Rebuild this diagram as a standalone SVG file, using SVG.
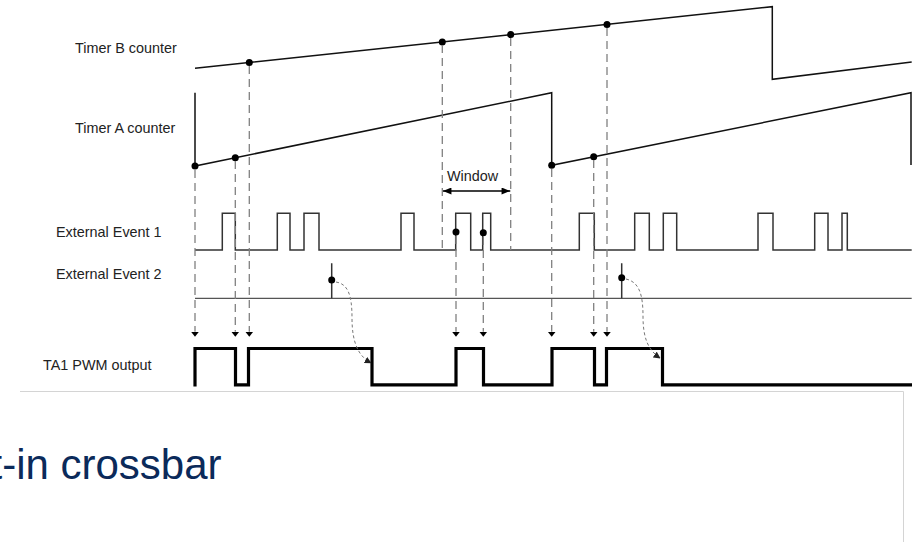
<svg xmlns="http://www.w3.org/2000/svg" width="923" height="542" viewBox="0 0 923 542">
<style>
  .lbl { font-family: "Liberation Sans", Arial, sans-serif; font-size: 14.4px; fill: #222; }
  .ctr { fill: none; stroke: #111; stroke-width: 1.5; }
  .ev { fill: none; stroke: #333; stroke-width: 1.5; }
  .ev2 { fill: none; stroke: #555; stroke-width: 1.2; }
  .pwm { fill: none; stroke: #000; stroke-width: 3.2; stroke-linejoin: miter; }
  .dash { fill: none; stroke: #808080; stroke-width: 1.3; stroke-dasharray: 8 5; }
  .curve { fill: none; stroke: #777; stroke-width: 1; stroke-dasharray: 3 2.5; }
  .dot { fill: #000; }
  .frame { fill: none; stroke: #d4d4d4; stroke-width: 1; }
</style>
<defs>
  <marker id="down" viewBox="0 0 8 5" refX="4" refY="0" markerWidth="8" markerHeight="5" markerUnits="userSpaceOnUse" orient="0">
    <path d="M0,0 L8,0 L4,5 Z" fill="#000"/>
  </marker>
  <marker id="ah" viewBox="0 0 10 8" refX="10" refY="4" markerWidth="9" markerHeight="7" markerUnits="userSpaceOnUse" orient="auto-start-reverse">
    <path d="M0,0 L10,4 L0,8 Z" fill="#000"/>
  </marker>
  <marker id="ahs" viewBox="0 0 10 10" refX="9" refY="5" markerWidth="7" markerHeight="7" markerUnits="userSpaceOnUse" orient="auto">
    <path d="M0,0 L10,5 L0,10 Z" fill="#222"/>
  </marker>
</defs>

<g id="timerB">
  <text class="lbl" x="75" y="53">Timer B counter</text>
  <path class="ctr" d="M195,68.3 L772.3,6.7 V79.3 L911.7,62"/>
  <circle class="dot" cx="249.3" cy="62.5" r="3.5"/>
  <circle class="dot" cx="442.3" cy="41.9" r="3.5"/>
  <circle class="dot" cx="510.7" cy="34.6" r="3.5"/>
  <circle class="dot" cx="607" cy="24.4" r="3.5"/>
</g>

<g id="timerA">
  <text class="lbl" x="75" y="133">Timer A counter</text>
  <path class="ctr" d="M195,92.7 V166 L551.7,92.7 V165.3 L911,92.7 V165"/>
  <circle class="dot" cx="195" cy="166" r="3.5"/>
  <circle class="dot" cx="235.3" cy="157.7" r="3.5"/>
  <circle class="dot" cx="551.7" cy="165.3" r="3.5"/>
  <circle class="dot" cx="593.7" cy="156.8" r="3.5"/>
</g>

<g id="window">
  <text class="lbl" x="447" y="181">Window</text>
  <line x1="442.7" y1="191" x2="510.3" y2="191" stroke="#000" stroke-width="1.5" marker-start="url(#ah)" marker-end="url(#ah)"/>
</g>

<g id="event1">
  <text class="lbl" x="56" y="237">External Event 1</text>
  <path class="ev" d="M195,250 H222.3 V213.3 H235.3 V250 H277.3 V213.3 H290 V250 H304 V213.3 H319 V250 H401 V213.3 H414 V250 H455.7 V213.3 H470.7 V250 H482.7 V213.3 H490.7 V250 H579.3 V213.3 H594.3 V250 H634.7 V213.3 H649.3 V250 H663.3 V213.3 H676.7 V250 H758 V213.3 H773 V250 H814.7 V213.3 H828 V250 H842 V213.3 H847.3 V250 H911.7"/>
  <circle class="dot" cx="456" cy="232" r="3.5"/>
  <circle class="dot" cx="483.3" cy="232.7" r="3.5"/>
</g>

<g id="event2">
  <text class="lbl" x="56" y="279">External Event 2</text>
  <path class="ev2" d="M195,298.3 H911.7"/>
  <path class="ev" d="M331.7,263.3 V298.3 M621.7,263.3 V298.3"/>
  <circle class="dot" cx="331.7" cy="280" r="3.5"/>
  <circle class="dot" cx="621.7" cy="277.7" r="3.5"/>
</g>

<g id="pwm">
  <text class="lbl" x="43" y="370">TA1 PWM output</text>
  <path class="pwm" d="M195,386.5 V348.5 H235.5 V384.8 H248.5 V348.5 H372 V384.8 H456 V348.5 H483.5 V384.8 H552 V348.5 H594.5 V384.8 H606.5 V348.5 H662.5 V384.8 H912"/>
</g>

<g id="connectors">
  <path class="dash" d="M195,170 V331.7" marker-end="url(#down)"/>
  <path class="dash" d="M235.3,161 V331.7" marker-end="url(#down)"/>
  <path class="dash" d="M249.3,66 V331.7" marker-end="url(#down)"/>
  <path class="dash" d="M442.3,45 V250"/>
  <path class="dash" d="M510.7,38 V250"/>
  <path class="dash" d="M456,236 V331.7" marker-end="url(#down)"/>
  <path class="dash" d="M483.3,237 V331.7" marker-end="url(#down)"/>
  <path class="dash" d="M551.7,169 V331.7" marker-end="url(#down)"/>
  <path class="dash" d="M593.7,160 V331.7" marker-end="url(#down)"/>
  <path class="dash" d="M607,28 V331.7" marker-end="url(#down)"/>
  <path class="curve" d="M336,282 C348,284 352,295 352,318 C352,342 358,356 371,363" marker-end="url(#ahs)"/>
  <path class="curve" d="M626,279 C639,282 643,294 643,316 C643,338 648,350 660,358" marker-end="url(#ahs)"/>
</g>

<g id="slide">
  <path class="frame" d="M20,391.5 H903.5 V542"/>
  <text x="-9.5" y="479" font-family="'Liberation Sans', Arial, sans-serif" font-size="42" fill="#0b2a5a">t-in crossbar</text>
</g>
</svg>
